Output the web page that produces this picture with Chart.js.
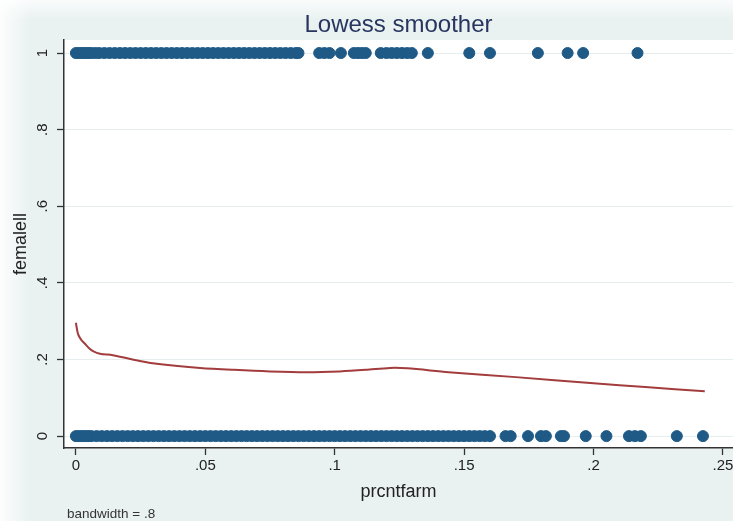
<!DOCTYPE html>
<html>
<head>
<meta charset="utf-8">
<script src="https://cdn.jsdelivr.net/npm/chart.js@4.4.0/dist/chart.umd.min.js"></script>
<style>
  html, body { margin: 0; padding: 0; background: #e9f1f1; overflow: hidden; }
  #wrap { width: 733px; height: 521px; }
</style>
</head>
<body>
<div id="wrap"><canvas id="lowessChart" width="733" height="521"></canvas></div>
<script>
// observed prcntfarm values, femalell == 1
var femaleOneX = [0, 0.001, 0.002, 0.003, 0.004, 0.005, 0.006, 0.0075, 0.009, 0.011, 0.013, 0.015,
  0.017, 0.019, 0.021, 0.023, 0.025, 0.027, 0.029, 0.031, 0.033, 0.035, 0.037, 0.039, 0.041, 0.043,
  0.045, 0.047, 0.049, 0.051, 0.053, 0.055, 0.057, 0.059, 0.061, 0.063, 0.065, 0.067, 0.069, 0.071,
  0.073, 0.075, 0.077, 0.079, 0.081, 0.083, 0.085, 0.086, 0.094, 0.096, 0.098, 0.1024, 0.1074, 0.109,
  0.1105, 0.112, 0.1178, 0.120, 0.122, 0.124, 0.126, 0.128, 0.1298, 0.136, 0.152, 0.160, 0.1785,
  0.190, 0.196, 0.217];

// observed prcntfarm values, femalell == 0
var femaleZeroX = [0, 0.001, 0.002, 0.003, 0.004, 0.005, 0.006, 0.008, 0.010, 0.012, 0.014, 0.016,
  0.018, 0.020, 0.022, 0.024, 0.026, 0.028, 0.030, 0.032, 0.034, 0.036, 0.038, 0.040, 0.042, 0.044,
  0.046, 0.048, 0.050, 0.052, 0.054, 0.056, 0.058, 0.060, 0.062, 0.064, 0.066, 0.068, 0.070, 0.072,
  0.074, 0.076, 0.078, 0.080, 0.082, 0.084, 0.086, 0.088, 0.090, 0.092, 0.094, 0.096, 0.098, 0.100,
  0.102, 0.104, 0.106, 0.108, 0.110, 0.112, 0.114, 0.116, 0.118, 0.120, 0.122, 0.124, 0.126, 0.128,
  0.130, 0.132, 0.134, 0.136, 0.138, 0.140, 0.142, 0.144, 0.146, 0.148, 0.150, 0.152, 0.154, 0.156,
  0.158, 0.160, 0.166, 0.168, 0.1747, 0.1797, 0.1816, 0.1874, 0.1886, 0.197, 0.205, 0.2137, 0.216,
  0.2183, 0.2322, 0.2423];

// lowess curve
var lowessX = [0, 0.0008, 0.002, 0.0035, 0.005, 0.0066, 0.0093, 0.0143, 0.0247, 0.032, 0.048, 0.061,
  0.075, 0.089, 0.102, 0.112, 0.1213, 0.128, 0.144, 0.17, 0.2, 0.22, 0.243];
var lowessY = [0.296, 0.267, 0.252, 0.241, 0.23, 0.222, 0.215, 0.211, 0.196, 0.188, 0.178, 0.173,
  0.169, 0.167, 0.169, 0.173, 0.178, 0.177, 0.167, 0.154, 0.138, 0.128, 0.117];

var xTicks = [0, 0.05, 0.1, 0.15, 0.2, 0.25];
var yTicks = [0, 0.2, 0.4, 0.6, 0.8, 1];

function stataNum(v) {
  var s = String(Math.round(v * 1000) / 1000);
  return s.replace(/^0\./, '.');
}

var scatterPts = femaleZeroX.map(function (x) { return {x: x, y: 0}; })
  .concat(femaleOneX.map(function (x) { return {x: x, y: 1}; }));
var lowessPts = lowessX.map(function (x, i) { return {x: x, y: lowessY[i]}; });

var bgPlugin = {
  id: 'stataBg',
  beforeDraw: function (chart) {
    var c = chart.ctx, a = chart.chartArea;
    c.save();
    c.fillStyle = '#e9f1f1';
    c.fillRect(0, 0, chart.width, chart.height);
    var g = c.createLinearGradient(0, 0, 30, 0);
    g.addColorStop(0, 'rgba(255,255,255,0.9)');
    g.addColorStop(1, 'rgba(255,255,255,0)');
    c.fillStyle = g;
    c.fillRect(0, 0, 30, chart.height);
    var g2 = c.createLinearGradient(0, 0, 0, 20);
    g2.addColorStop(0, 'rgba(255,255,255,0.8)');
    g2.addColorStop(1, 'rgba(255,255,255,0)');
    c.fillStyle = g2;
    c.fillRect(0, 0, chart.width, 20);
    c.fillStyle = '#ffffff';
    c.fillRect(a.left, a.top, a.right - a.left, a.bottom - a.top);
    c.restore();
  },
  afterDraw: function (chart) {
    var c = chart.ctx, a = chart.chartArea;
    c.save();
    c.fillStyle = '#27355f';
    c.font = '24px "Liberation Sans", Arial, sans-serif';
    c.textAlign = 'center';
    c.textBaseline = 'middle';
    c.fillText('Lowess smoother', (a.left + a.right) / 2, 25);
    c.fillStyle = '#333333';
    c.font = '13.5px "Liberation Sans", Arial, sans-serif';
    c.textAlign = 'left';
    c.fillText('bandwidth = .8', 67, 514);
    c.restore();
  }
};

var ctx = document.getElementById('lowessChart').getContext('2d');
var lowessChart = new Chart(ctx, {
  type: 'scatter',
  data: {
    datasets: [{
      label: 'femalell',
      data: scatterPts,
      backgroundColor: '#1f5a86',
      borderColor: '#1f5a86',
      borderWidth: 1,
      pointRadius: 5.5,
      pointHoverRadius: 5.5
    }, {
      label: 'lowess',
      data: lowessPts,
      showLine: true,
      borderColor: '#a33c3c',
      borderWidth: 2,
      pointRadius: 0,
      tension: 0.3
    }]
  },
  options: {
    responsive: false,
    animation: false,
    devicePixelRatio: 1,
    layout: { autoPadding: false, padding: { top: 40, left: 0, right: 0, bottom: 0 } },
    plugins: { legend: { display: false }, tooltip: { enabled: false } },
    scales: {
      x: {
        type: 'linear',
        min: -0.0046,
        max: 0.2539,
        afterBuildTicks: function (s) { s.ticks = xTicks.map(function (v) { return {value: v}; }); },
        afterFit: function (s) { s.height = 73; s.paddingLeft = 0; s.paddingRight = 0; },
        ticks: {
          autoSkip: false, maxRotation: 0, minRotation: 0, padding: 2,
          color: '#222222', font: { family: '"Liberation Sans", Arial, sans-serif', size: 15 },
          callback: function (v) { return stataNum(v); }
        },
        grid: { drawOnChartArea: false, tickLength: 7, tickColor: '#333333', tickWidth: 1.3 },
        border: { color: '#333333', width: 1.5 },
        title: {
          display: true, text: 'prcntfarm', color: '#222222',
          font: { family: '"Liberation Sans", Arial, sans-serif', size: 18 },
          padding: { top: 0, bottom: 18 }
        }
      },
      y: {
        type: 'linear',
        min: -0.031,
        max: 1.034,
        afterBuildTicks: function (s) { s.ticks = yTicks.map(function (v) { return {value: v}; }); },
        afterFit: function (s) { s.width = 64; s.paddingTop = 0; s.paddingBottom = 0; },
        ticks: {
          autoSkip: false, minRotation: 90, maxRotation: 90, crossAlign: 'center', padding: 8,
          color: '#222222', font: { family: '"Liberation Sans", Arial, sans-serif', size: 15 },
          callback: function (v) { return stataNum(v); }
        },
        grid: { color: '#e5edef', lineWidth: 1, tickLength: 7, tickColor: '#333333', tickWidth: 1.3 },
        border: { color: '#333333', width: 1.5 },
        title: {
          display: true, text: 'femalell', color: '#222222',
          font: { family: '"Liberation Sans", Arial, sans-serif', size: 18 },
          padding: { top: 10, bottom: 0 }
        }
      }
    }
  },
  plugins: [bgPlugin]
});
</script>
</body>
</html>
